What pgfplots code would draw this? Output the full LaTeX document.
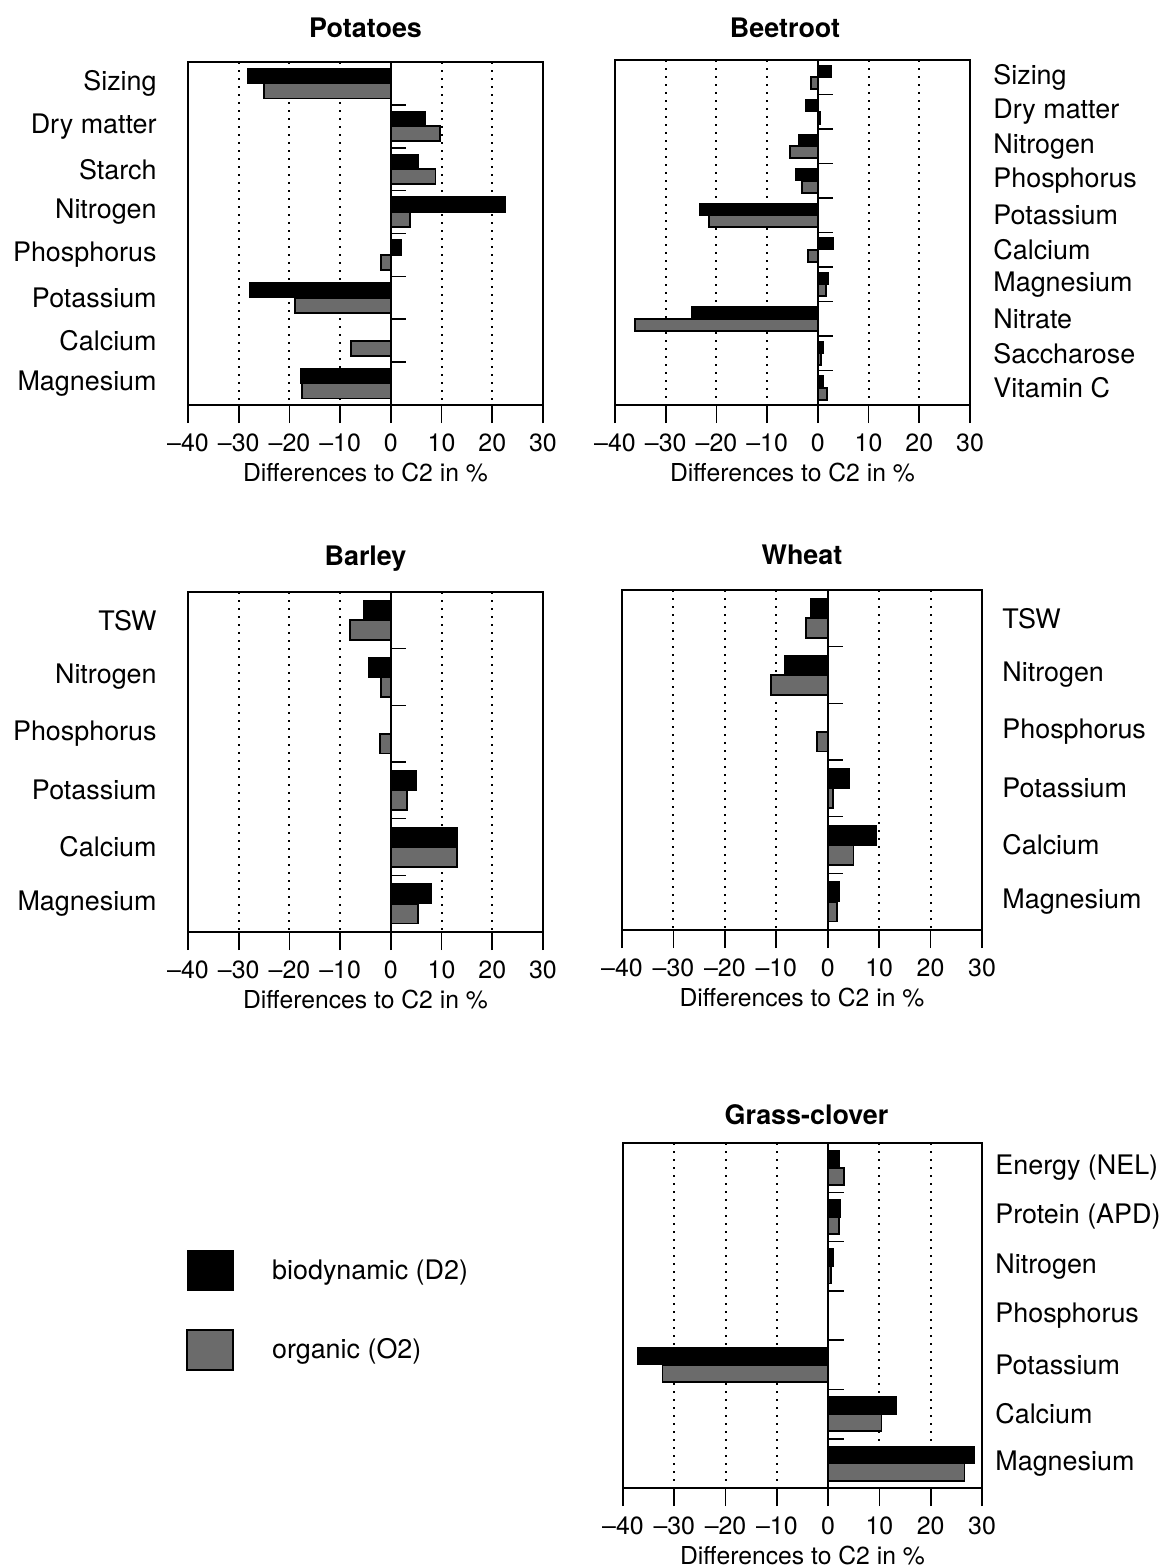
\documentclass[border=0pt]{standalone}
\usepackage{fontspec}
\setmainfont{TeX Gyre Heros}
\usepackage{pgfplots}
\usepackage{pgfplotstable}
\pgfplotsset{compat=1.18}

% Differences to C2 in %, D2 = biodynamic, O2 = organic
\pgfplotstableread{
idx D2 O2
0 -28.2 -25.0
1 6.8 9.7
2 5.5 8.8
3 22.6 3.7
4 2.1 -2.0
5 -27.8 -18.9
6 0.0 -7.8
7 -17.8 -17.5
}\potatoes

\pgfplotstableread{
idx D2 O2
0 2.6 -1.3
1 -2.5 0.5
2 -3.7 -5.5
3 -4.4 -3.2
4 -23.3 -21.4
5 3.1 -2.0
6 2.0 1.6
7 -24.9 -36.1
8 1.0 0.6
9 1.0 1.8
}\beetroot

\pgfplotstableread{
idx D2 O2
0 -5.3 -8.1
1 -4.3 -2.0
2 0.0 -2.2
3 5.0 3.2
4 13.1 13.1
5 8.0 5.4
}\barley

\pgfplotstableread{
idx D2 O2
0 -3.4 -4.2
1 -8.3 -11.0
2 0.0 -2.1
3 4.2 1.0
4 9.4 5.0
5 2.2 1.8
}\wheat

\pgfplotstableread{
idx D2 O2
0 2.1 3.1
1 2.3 2.1
2 1.0 0.6
3 0.0 0.0
4 -37.1 -32.3
5 13.3 10.4
6 28.5 26.6
}\grassclover

\tikzset{zeroline/.style={line width=0.8bp, black}}
\colorlet{organic}{black!58}

\pgfplotsset{
  panel/.style={
    scale only axis,
    xbar,
    bar width=0.35,
    y dir=reverse,
    xmin=-40, xmax=30,
    xtick={-40,-30,-20,-10,0,10,20,30},
    xticklabels={--40,--30,--20,--10,0,10,20,30},
    xtick pos=left,
    tick align=outside,
    major tick length=9bp,
    xtick style={black, line width=0.8bp},
    ytick style={draw=none},
    xmajorgrids,
    grid style={black, line width=1bp, dash pattern=on 1.1bp off 2.9bp},
    axis line style={line width=0.9bp},
    xticklabel style={anchor=base, inner sep=0pt, font=\fontsize{12.5}{14}\selectfont},
    xticklabel shift=14.25bp,
    yticklabel style={inner sep=0pt, font=\fontsize{13.5}{16}\selectfont},
    xlabel={Differences to C2 in \%},
    xlabel style={at={(axis description cs:0.5,0)}, anchor=base, yshift=-38bp,
                  font=\fontsize{12.4}{14}\selectfont},
    title style={at={(axis description cs:0.5,1)}, anchor=base,
                 font=\bfseries\fontsize{13.5}{16}\selectfont},
  },
  leftlabels/.style={yticklabel pos=left, yticklabel shift=6.5bp},
  d2/.style={fill=black, draw=black, line width=0.6bp, bar shift=-0.175},
  o2/.style={fill=organic, draw=black, line width=0.9bp, bar shift=0.175},
}

\begin{document}
\begin{tikzpicture}
\path[use as bounding box] (0,0) rectangle (584bp,-784bp);

% Potatoes
\begin{axis}[panel, leftlabels,
  at={(94bp,-202.5bp)}, anchor=south west,
  width=177.5bp, height=171.5bp,
  title={Potatoes}, title style={yshift=6.25bp},
  ymin=-0.5, ymax=7.5, ytick={0,...,7},
  yticklabels={Sizing,Dry matter,Starch,Nitrogen,Phosphorus,Potassium,Calcium,Magnesium}]
\addplot[d2] table[x=D2, y=idx]{\potatoes};
\addplot[o2] table[x=O2, y=idx]{\potatoes};
\draw[zeroline] (axis cs:0,-0.5) -- (axis cs:0,7.5);
\pgfplotsinvokeforeach{0.5,1.5,2.5,3.5,4.5,5.5,6.5}{\draw[zeroline] (axis cs:0,#1) -- (axis cs:3,#1);}
\end{axis}

% Beetroot
\begin{axis}[panel,
  at={(307.5bp,-202.5bp)}, anchor=south west,
  width=177.5bp, height=172.5bp,
  title={Beetroot}, title style={yshift=5.25bp, xshift=-3.75bp},
  yticklabel pos=right, yticklabel shift=2.5bp,
  ymin=-0.5, ymax=9.5, ytick={0,...,9},
  yticklabels={Sizing,Dry matter,Nitrogen,Phosphorus,Potassium,Calcium,Magnesium,Nitrate,Saccharose,Vitamin C}]
\addplot[d2] table[x=D2, y=idx]{\beetroot};
\addplot[o2] table[x=O2, y=idx]{\beetroot};
\draw[zeroline] (axis cs:0,-0.5) -- (axis cs:0,9.5);
\pgfplotsinvokeforeach{0.5,1.5,2.5,3.5,4.5,5.5,6.5,7.5,8.5}{\draw[zeroline] (axis cs:0,#1) -- (axis cs:3,#1);}
\end{axis}

% Barley
\begin{axis}[panel, leftlabels,
  at={(94bp,-466bp)}, anchor=south west,
  width=177.5bp, height=170bp,
  title={Barley}, title style={yshift=7.25bp},
  ymin=-0.5, ymax=5.5, ytick={0,...,5},
  yticklabels={TSW,Nitrogen,Phosphorus,Potassium,Calcium,Magnesium}]
\addplot[d2] table[x=D2, y=idx]{\barley};
\addplot[o2] table[x=O2, y=idx]{\barley};
\draw[zeroline] (axis cs:0,-0.5) -- (axis cs:0,5.5);
\pgfplotsinvokeforeach{0.5,1.5,2.5,3.5,4.5}{\draw[zeroline] (axis cs:0,#1) -- (axis cs:3,#1);}
\end{axis}

% Wheat
\begin{axis}[panel,
  at={(311bp,-465bp)}, anchor=south west,
  width=180bp, height=170bp,
  title={Wheat}, title style={yshift=6.75bp},
  yticklabel pos=right, yticklabel shift=1bp,
  ymin=-0.5, ymax=5.5, ytick={0,...,5},
  yticklabels={TSW,Nitrogen,Phosphorus,Potassium,Calcium,Magnesium}]
\addplot[d2] table[x=D2, y=idx]{\wheat};
\addplot[o2] table[x=O2, y=idx]{\wheat};
\draw[zeroline] (axis cs:0,-0.5) -- (axis cs:0,5.5);
\pgfplotsinvokeforeach{0.5,1.5,2.5,3.5,4.5}{\draw[zeroline] (axis cs:0,#1) -- (axis cs:3,#1);}
\end{axis}

% Grass-clover, with the legend placed to its left
\begin{axis}[panel,
  at={(311.5bp,-744bp)}, anchor=south west,
  width=179.5bp, height=172.5bp,
  title={Grass-clover}, title style={yshift=3.25bp, xshift=2bp},
  yticklabel pos=right, yticklabel shift=-2.5bp,
  ymin=-0.5, ymax=6.5, ytick={0,...,6},
  yticklabels={Energy (NEL),Protein (APD),Nitrogen,Phosphorus,Potassium,Calcium,Magnesium},
  legend style={at={(axis description cs:-1.2173,0.6899)}, anchor=north west,
    draw=none, fill=none, inner sep=0pt, row sep=18.75bp, column sep=19bp,
    font=\fontsize{13.5}{16}\selectfont, nodes={inner sep=0pt}},
  legend cell align=left]
\addlegendimage{legend image code/.code={\draw[fill=black, draw=black] (0bp,-10bp) rectangle (23bp,10bp);}}
\addlegendentry{biodynamic (D2)}
\addlegendimage{legend image code/.code={\draw[fill=organic, draw=black, line width=0.9bp] (0bp,-10bp) rectangle (23bp,10bp);}}
\addlegendentry{organic (O2)}
\addplot[d2, forget plot] table[x=D2, y=idx]{\grassclover};
\addplot[o2, forget plot] table[x=O2, y=idx]{\grassclover};
\draw[zeroline] (axis cs:0,-0.5) -- (axis cs:0,6.5);
\pgfplotsinvokeforeach{0.5,1.5,2.5,3.5,4.5,5.5}{\draw[zeroline] (axis cs:0,#1) -- (axis cs:3,#1);}
\end{axis}
\end{tikzpicture}
\end{document}
